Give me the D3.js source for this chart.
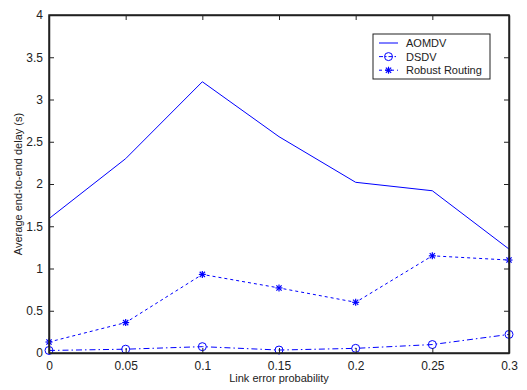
<!DOCTYPE html>
<html>
<head>
<meta charset="utf-8">
<script src="https://cdn.jsdelivr.net/npm/d3@7"></script>
<style>
  body { margin: 0; background: #fff; }
  svg text { font-family: "Liberation Sans", Arial, sans-serif; fill: #222; }
</style>
</head>
<body>
<div id="chart"></div>
<script>
// link error probability on x, delay in seconds on y
let probs = [0, 0.05, 0.1, 0.15, 0.2, 0.25, 0.3];
let aomdv = [1.59, 2.30, 3.21, 2.56, 2.02, 1.92, 1.23];
let dsdv = [0.03, 0.045, 0.075, 0.035, 0.055, 0.10, 0.22];
let robust = [0.13, 0.36, 0.93, 0.77, 0.60, 1.15, 1.10];
let xTicks = [0, 0.05, 0.1, 0.15, 0.2, 0.25, 0.3];
let yTicks = [0, 0.5, 1, 1.5, 2, 2.5, 3, 3.5, 4];

let W = 527, H = 390;
let margin = { top: 15, right: 18, bottom: 37, left: 49 };
let iw = W - margin.left - margin.right,
  ih = H - margin.top - margin.bottom;
let blue = "#0000ff";

let svg = d3.select("#chart").append("svg")
  .attr("width", W)
  .attr("height", H);

let g = svg.append("g")
  .attr("transform", "translate(" + margin.left + "," + margin.top + ")");

let x = d3.scaleLinear().domain([0, 0.3]).range([0, iw]);
let y = d3.scaleLinear().domain([0, 4]).range([ih, 0]);

// series lines, drawn before the frame so the frame sits on top
let series = [
  { name: "AOMDV", vals: aomdv, dash: null, marker: null },
  { name: "DSDV", vals: dsdv, dash: "6,3,1.5,3", marker: "circle" },
  { name: "Robust Routing", vals: robust, dash: "3,3", marker: "star" }
];

let line = d3.line()
  .x((d, i) => x(probs[i]))
  .y(d => y(d));

let drawMarker = function (sel, kind, cx, cy) {
  if (kind == "circle") {
    sel.append("circle")
      .attr("cx", cx).attr("cy", cy).attr("r", 4)
      .attr("fill", "none").attr("stroke", blue).attr("stroke-width", 1);
  } else if (kind == "star") {
    let r = 3.5;
    [[-r, 0, r, 0], [0, -r, 0, r], [-r * 0.75, -r * 0.75, r * 0.75, r * 0.75], [-r * 0.75, r * 0.75, r * 0.75, -r * 0.75]]
      .forEach(s => {
        sel.append("line")
          .attr("x1", cx + s[0]).attr("y1", cy + s[1])
          .attr("x2", cx + s[2]).attr("y2", cy + s[3])
          .attr("stroke", blue).attr("stroke-width", 1.2);
      });
  }
};

series.forEach(s => {
  g.append("path")
    .attr("d", line(s.vals))
    .attr("fill", "none")
    .attr("stroke", blue)
    .attr("stroke-width", 1)
    .attr("stroke-dasharray", s.dash);
  if (s.marker) {
    s.vals.forEach((v, i) => drawMarker(g, s.marker, x(probs[i]), y(v)));
  }
});

// frame with inward ticks on all four sides
let tickLen = 5;
g.append("g")
  .attr("transform", "translate(0," + ih + ")")
  .call(d3.axisBottom(x).tickValues(xTicks).tickSizeInner(-tickLen).tickSizeOuter(0).tickPadding(8)
    .tickFormat(d => d3.format("")(d)));
g.append("g")
  .call(d3.axisTop(x).tickValues(xTicks).tickSizeInner(-tickLen).tickSizeOuter(0).tickFormat(""));
g.append("g")
  .call(d3.axisLeft(y).tickValues(yTicks).tickSizeInner(-tickLen).tickSizeOuter(0).tickPadding(6)
    .tickFormat(d => d3.format("")(d)));
g.append("g")
  .attr("transform", "translate(" + iw + ",0)")
  .call(d3.axisRight(y).tickValues(yTicks).tickSizeInner(-tickLen).tickSizeOuter(0).tickFormat(""));

g.selectAll(".domain").attr("stroke", "#222").attr("stroke-width", 1.5);
g.selectAll(".tick line").attr("stroke", "#222");
g.selectAll(".tick text").style("font-size", "12px").attr("fill", "#222");

g.append("rect")
  .attr("width", iw).attr("height", ih)
  .attr("fill", "none").attr("stroke", "#222").attr("stroke-width", 1.5);

// axis titles
svg.append("text")
  .attr("x", margin.left + iw / 2)
  .attr("y", H - 8)
  .attr("text-anchor", "middle")
  .style("font-size", "11px")
  .text("Link error probability");

svg.append("text")
  .attr("transform", "translate(22," + (margin.top + ih / 2) + ") rotate(-90)")
  .attr("text-anchor", "middle")
  .style("font-size", "11px")
  .text("Average end-to-end delay (s)");

// legend
let lg = svg.append("g").attr("transform", "translate(373,34)");
lg.append("rect")
  .attr("width", 117).attr("height", 45)
  .attr("fill", "#fff").attr("stroke", "#222").attr("stroke-width", 1);

series.forEach((s, i) => {
  let ly = 9 + i * 13.6;
  lg.append("line")
    .attr("x1", 6).attr("x2", 25)
    .attr("y1", ly).attr("y2", ly)
    .attr("stroke", blue).attr("stroke-width", 1)
    .attr("stroke-dasharray", s.dash ? (s.marker == "star" ? "3,3" : "4,2,1.5,2") : null);
  if (s.marker) drawMarker(lg, s.marker, 15.5, ly);
  lg.append("text")
    .attr("x", 33).attr("y", ly + 4)
    .style("font-size", "11px")
    .text(s.name);
});
</script>
</body>
</html>
